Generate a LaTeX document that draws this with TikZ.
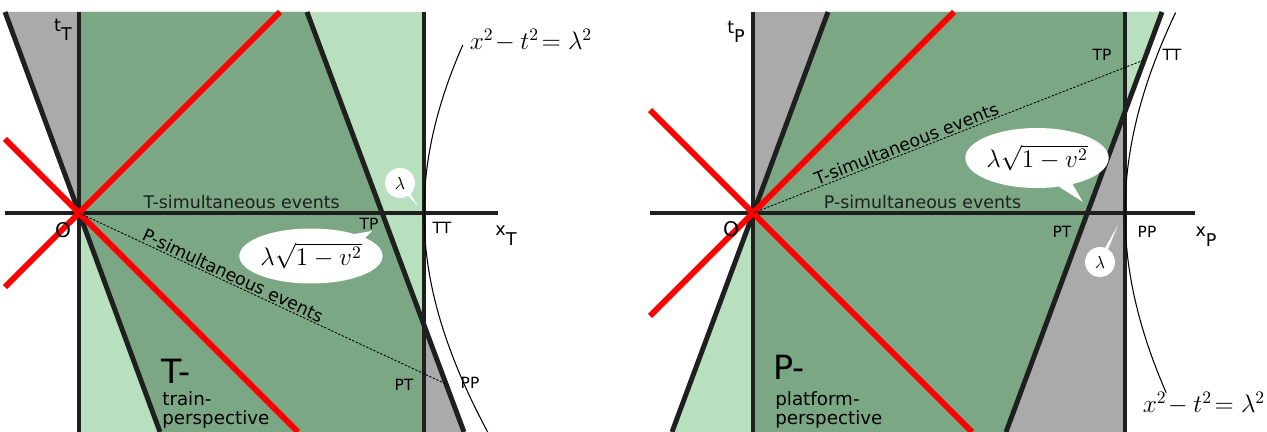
\documentclass[tikz,border=0pt]{standalone}
\usepackage{fontspec}
\setsansfont{DejaVu Sans}
\usetikzlibrary{shapes.callouts}
\definecolor{trainMint}{RGB}{184,223,190}
\definecolor{overlapGreen}{RGB}{123,167,132}
\definecolor{platformGrey}{RGB}{170,170,170}
\definecolor{lightRed}{RGB}{255,0,0}
\newcommand{\AxisLabel}[2]{#1\raisebox{-0.55em}{#2}}

\begin{document}
\begin{tikzpicture}[x=0.02cm,y=-0.02cm,
  frameline/.style={line width=2.8pt,black!88},
  lightline/.style={line width=3.3pt,lightRed},
  simline/.style={line width=0.5pt,dash pattern=on 1.3pt off 0.9pt},
  hyper/.style={line width=0.6pt},
  evlab/.style={font=\sffamily\fontsize{8.8}{9}\selectfont,inner sep=1pt},
  axlab/.style={font=\sffamily\fontsize{10}{10}\selectfont,inner sep=0pt},
  txt/.style={font=\sffamily\fontsize{9.9}{10}\selectfont,inner sep=0.8pt},
  persp/.style={font=\sffamily\fontsize{10.4}{11}\selectfont,align=left,inner sep=0pt},
  bigtxt/.style={font=\sffamily\fontsize{19}{19}\selectfont,inner sep=0pt},
  bubble/.style={ellipse callout,fill=white,inner sep=0pt,callout pointer arc=12},
  eqn/.style={font=\fontsize{14}{14}\selectfont,inner sep=0pt}]
\useasboundingbox (0,0) rectangle (1267,432);

% train perspective
\coordinate (O1) at (79,213);
\coordinate (TT1) at (424,213);
\coordinate (TP1) at (382,213);
\coordinate (PT1) at (424,374);
\coordinate (PP1) at (446,384);

\fill[trainMint] (79,12) rectangle (424,432);
\fill[platformGrey] (5,12) -- (307,12) -- (464,432) -- (160,432) -- cycle;
\begin{scope}
  \clip (79,12) rectangle (424,432);
  \fill[overlapGreen] (5,12) -- (307,12) -- (464,432) -- (160,432) -- cycle;
\end{scope}

\draw[frameline] (79,12) -- (79,432);
\draw[frameline] (5,213) -- node[txt,above,pos=0.48]{T-simultaneous events} (498,213);
\draw[frameline] (424,12) -- (424,432);
\draw[frameline] (5,12) -- (160,432);
\draw[frameline] (307,12) -- (464,432);
\draw[lightline] (5,287) -- (O1) -- (280,12);
\draw[lightline] (5,139) -- (O1) -- (298,432);

\draw[simline] (O1) -- node[txt,sloped,above,pos=0.41]{P-simultaneous events} (PP1);
\draw[hyper] plot[domain=-0.598:0.47,samples=50,variable=\u] ({79+345*cosh(\u)},{213-345*sinh(\u)});

\node[axlab] (tT) at (63,30) {\AxisLabel{t}{T}};
\node[axlab] (xT) at (506,236) {\AxisLabel{x}{T}};
\node[font=\sffamily\fontsize{11.5}{11.5}\selectfont,inner sep=0pt] (lO1) at (63,230) {O};
\node[evlab] (lTP1) at (369,224) {TP};
\node[evlab] (lTT1) at (442,228) {TT};
\node[evlab] (lPT1) at (404,385) {PT};
\node[evlab] (lPP1) at (470,383) {PP};
\node[eqn] (eq1) at (531,40) {$x^2\!-t^2\!= \lambda^2$};
\node[bubble,minimum width=0.6cm,minimum height=0.6cm,callout absolute pointer={(418,206)}] (lam1) at (400,183) {$\lambda$};
\node[bubble,minimum width=2.3cm,minimum height=1.1cm,callout absolute pointer={(372,231)}] (len1) at (311,256)
  {\fontsize{14}{16}\selectfont$\lambda\sqrt{1-v^2}$};
\node[bigtxt,anchor=west] (big1) at (161,371) {T-};
\node[persp,anchor=north west] (name1) at (162,391) {train-\\perspective};

% platform perspective
\coordinate (O2) at (753,213);
\coordinate (PP2) at (1125,213);
\coordinate (PT2) at (1087,213);
\coordinate (TP2) at (1125,68);
\coordinate (TT2) at (1144,60);

\fill[platformGrey] (753,12) rectangle (1125,432);
\fill[trainMint] (828,12) -- (1162,12) -- (1006,432) -- (672,432) -- cycle;
\begin{scope}
  \clip (753,12) rectangle (1125,432);
  \fill[overlapGreen] (828,12) -- (1162,12) -- (1006,432) -- (672,432) -- cycle;
\end{scope}

\draw[frameline] (753,12) -- (753,432);
\draw[frameline] (650,213) -- node[txt,above,pos=0.5]{P-simultaneous events} (1195,213);
\draw[frameline] (1125,12) -- (1125,432);
\draw[frameline] (828,12) -- (672,432);
\draw[frameline] (1162,12) -- (1006,432);
\draw[lightline] (650,316) -- (O2) -- (954,12);
\draw[lightline] (650,110) -- (O2) -- (972,432);

\draw[simline] (O2) -- node[txt,sloped,above,pos=0.40]{T-simultaneous events} (TT2);
\draw[hyper] plot[domain=-0.466:0.516,samples=50,variable=\u] ({753+372*cosh(\u)},{213-372*sinh(\u)});

\node[axlab] (tP) at (736,32) {\AxisLabel{t}{P}};
\node[axlab] (xP) at (1206,237) {\AxisLabel{x}{P}};
\node[font=\sffamily\fontsize{11.5}{11.5}\selectfont,inner sep=0pt] (lO2) at (731,229) {O};
\node[evlab] (lTP2) at (1102,55) {TP};
\node[evlab] (lTT2) at (1172,55) {TT};
\node[evlab] (lPT2) at (1062,232) {PT};
\node[evlab] (lPP2) at (1147,232) {PP};
\node[eqn] (eq2) at (1204,403) {$x^2\!-t^2\!= \lambda^2$};
\node[bubble,minimum width=0.6cm,minimum height=0.6cm,callout absolute pointer={(1118,225)}] (lam2) at (1100,262) {$\lambda$};
\node[bubble,minimum width=2.3cm,minimum height=1.2cm,callout absolute pointer={(1083,202)}] (len2) at (1037,158)
  {\fontsize{14}{16}\selectfont$\lambda\sqrt{1-v^2}$};
\node[bigtxt,anchor=west] (big2) at (773,367) {P-};
\node[persp,anchor=north west] (name2) at (775,391) {platform-\\perspective};
\end{tikzpicture}
\end{document}
